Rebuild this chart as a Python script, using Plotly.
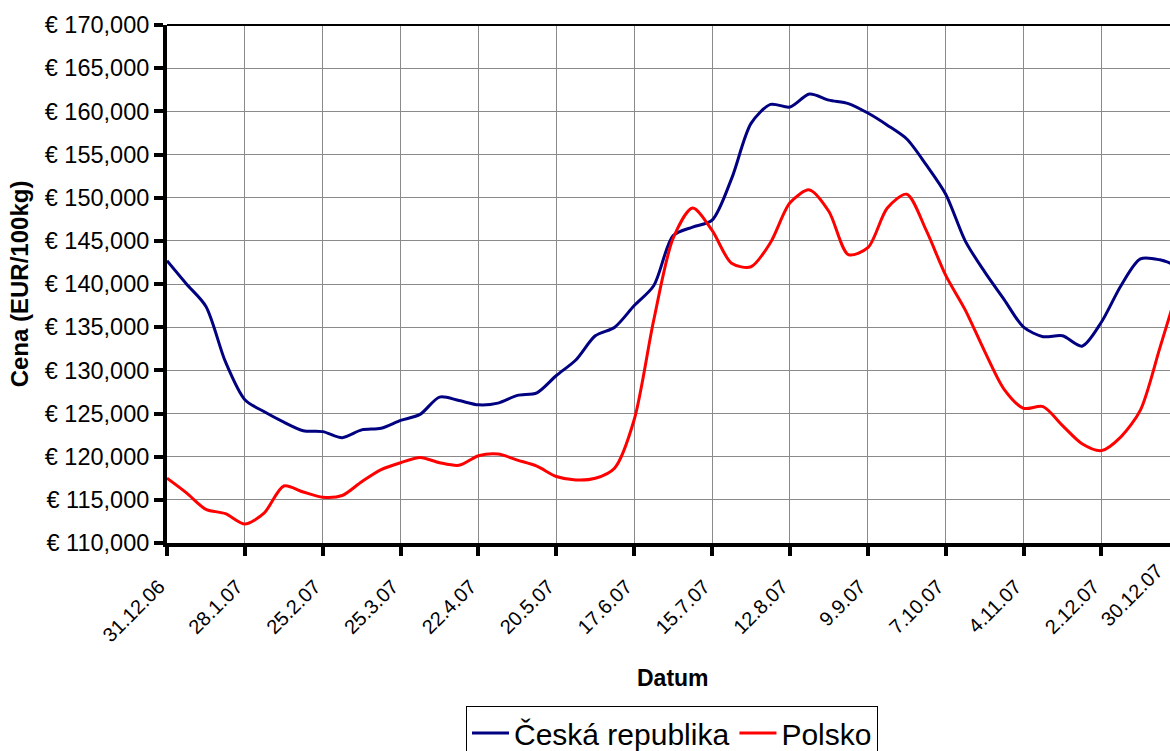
import pandas as pd
import plotly.graph_objects as go

start = pd.Timestamp("2006-12-31")
dates = pd.date_range(start, periods=53, freq="7D")

cz = [142.7, 140.0, 137.4, 131.0, 126.6, 125.2, 124.0, 123.0, 122.9, 122.2,
      123.1, 123.3, 124.2, 124.9, 126.9, 126.5, 126.0, 126.2, 127.1, 127.4,
      129.4, 131.2, 134.0, 135.0, 137.5, 139.8, 145.6, 146.6, 147.4, 152.2,
      158.6, 160.8, 160.5, 162.0, 161.3, 160.9, 159.8, 158.4, 156.8, 153.8,
      150.4, 145.0, 141.4, 138.2, 135.0, 133.9, 134.0, 132.8, 135.6, 139.8,
      142.9, 142.8, 142.0]
pl = [117.5, 115.8, 113.9, 113.4, 112.2, 113.5, 116.6, 115.9, 115.3, 115.5,
      117.1, 118.5, 119.3, 119.9, 119.3, 119.0, 120.1, 120.3, 119.6, 118.9,
      117.7, 117.3, 117.5, 118.7, 124.3, 135.8, 145.3, 148.8, 146.2, 142.4,
      142.0, 144.8, 149.4, 150.9, 148.4, 143.4, 144.2, 148.8, 150.4, 146.2,
      141.0, 137.0, 132.2, 127.8, 125.6, 125.8, 123.6, 121.5, 120.7, 122.3,
      125.4, 132.6, 140.0]

tick_labels = ["31.12.06", "28.1.07", "25.2.07", "25.3.07", "22.4.07", "20.5.07",
               "17.6.07", "15.7.07", "12.8.07", "9.9.07", "7.10.07", "4.11.07",
               "2.12.07", "30.12.07"]
tick_dates = pd.date_range(start, periods=len(tick_labels), freq="28D")

cz_eur = [v * 1000 for v in cz]
pl_eur = [v * 1000 for v in pl]

FONT = "Arial, Liberation Sans, sans-serif"
YTICK_SIZE = 23.5
XTICK_SIZE = 20

fig = go.Figure()
fig.add_trace(go.Scatter(x=dates, y=cz_eur, name="Česká republika", mode="lines",
                         line=dict(color="#000080", width=3, shape="spline", smoothing=0.8)))
fig.add_trace(go.Scatter(x=dates, y=pl_eur, name="Polsko", mode="lines",
                         line=dict(color="#FF0000", width=3, shape="spline", smoothing=0.8)))

x_end = start + pd.Timedelta(days=51.52 * 7)

W, H = 1170, 751
L, T, R = 167, 25, 0
BOTTOM = 543
B = H - BOTTOM
PW, PH = W - L - R, BOTTOM - T


def px_x(sx):
    return (sx - L) / PW


def px_y(sy):
    return (BOTTOM - sy) / PH


fig.update_layout(
    width=W, height=H,
    margin=dict(l=L, r=R, t=T, b=B, autoexpand=False),
    paper_bgcolor="white", plot_bgcolor="white",
    font=dict(family=FONT, size=YTICK_SIZE, color="black"),
    showlegend=True,
    legend=dict(orientation="h", x=px_x(672), xanchor="center",
                y=px_y(706), yanchor="top",
                bordercolor="black", borderwidth=1, font=dict(size=30, family=FONT),
                itemwidth=37, bgcolor="white"),
    xaxis=dict(
        type="date", range=[start, x_end],
        tickvals=list(tick_dates[:-1]), ticktext=tick_labels[:-1],
        tickangle=-45, ticks="outside", ticklen=9, tickwidth=4, tickcolor="black",
        ticklabelstandoff=11, ticklabelshift=-8,
        showline=True, linewidth=4, linecolor="black",
        showgrid=True, gridcolor="#8a8a8a", gridwidth=1.4,
        tickfont=dict(size=XTICK_SIZE, family=FONT),
        automargin=False, zeroline=False,
    ),
    yaxis=dict(
        range=[110000, 170000], dtick=5000, tick0=110000,
        tickprefix="€ ", tickformat=",.0f",
        ticks="outside", ticklen=9, tickwidth=4, tickcolor="black",
        showline=True, linewidth=4, linecolor="black",
        showgrid=True, gridcolor="#8a8a8a", gridwidth=1.4,
        tickfont=dict(size=YTICK_SIZE, family=FONT),
        title=dict(text="<b>Cena (EUR/100kg)</b>", font=dict(size=24, family=FONT), standoff=10),
        automargin=False, zeroline=False,
    ),
    shapes=[dict(type="line", xref="paper", yref="paper", x0=0, x1=1, y0=1, y1=1,
                 line=dict(color="black", width=2))],
    annotations=[
        dict(text=tick_labels[-1], xref="paper", yref="paper",
             x=px_x(1170), y=px_y(557),
             xanchor="right", yanchor="top", textangle=-45, showarrow=False,
             font=dict(size=XTICK_SIZE, family=FONT)),
        dict(text="<b>Datum</b>", xref="paper", yref="paper",
             x=px_x(672.5), y=px_y(678), xanchor="center", yanchor="middle",
             showarrow=False, font=dict(size=23, family=FONT)),
    ],
)

fig.write_html("out.html", config={"displayModeBar": False},
               post_script="document.body.style.margin='0';"
                           "document.body.style.overflow='hidden';")
